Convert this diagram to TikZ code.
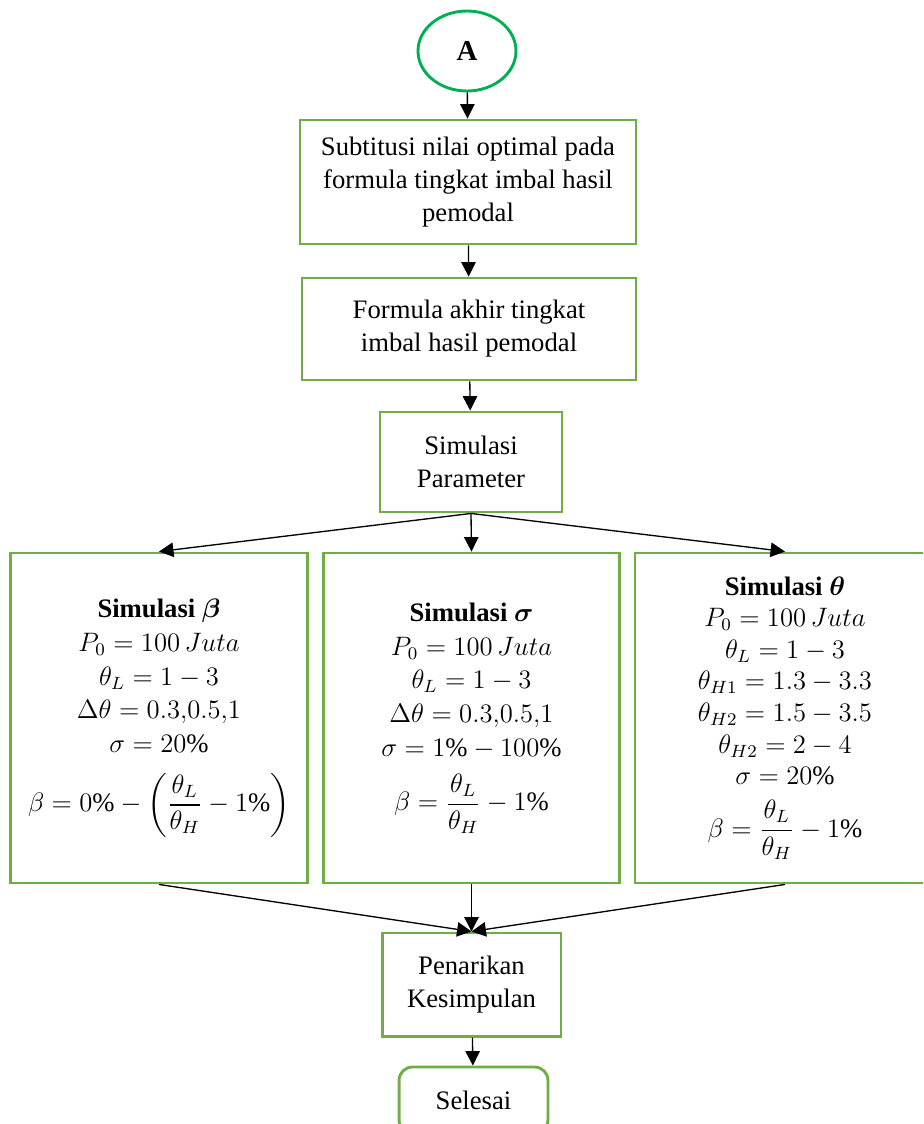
\documentclass[tikz,border=0pt]{standalone}
\usepackage{amsmath, amssymb}
\usepackage{fontspec}
\setmainfont{Liberation Serif}
\usepackage{xcolor}
\usepackage{tikz}
\usetikzlibrary{
  shapes.geometric,
  arrows.meta,
  positioning
}
\definecolor{BoxGreen}{RGB}{112, 173, 71}
\definecolor{StartGreen}{RGB}{0, 176, 80}
\tikzset{
    prosesbox/.style={rectangle, draw=BoxGreen, line width=1.3pt, align=center, inner sep=2pt,
        font=\fontsize{12}{14.8}\selectfont},
    simbox/.style={prosesbox, minimum width=133.4pt, minimum height=148.5pt,
        font=\fontsize{12}{15.2}\selectfont},
    panah/.style={-{Triangle[length=6.5pt, width=6.5pt]}, line width=0.6pt, black}
}

\begin{document}
\begin{tikzpicture}[x=0.45pt, y=-0.45pt]
            \clip (0,0) rectangle (923,1124);
            \useasboundingbox (0,0) rectangle (923,1124);

            \node[ellipse, draw=StartGreen, line width=1.3pt, minimum width=44.1pt, minimum height=36pt,
                font=\fontsize{13}{15}\selectfont\bfseries] (mulai) at (467,51) {A};
            \node[prosesbox, minimum width=151.2pt, minimum height=55.8pt] (subtitusi) at (468,182)
                {Subtitusi nilai optimal pada\\formula tingkat imbal hasil\\pemodal};
            \node[prosesbox, minimum width=150.3pt, minimum height=45.9pt] (formula) at (469,329)
                {Formula akhir tingkat\\imbal hasil pemodal};
            \node[prosesbox, minimum width=81.9pt, minimum height=45pt] (simparam) at (471,462)
                {Simulasi\\Parameter};

            \node[simbox] (simbeta) at (159,718) {
                \textbf{Simulasi $\boldsymbol{\beta}$}\\
                $P_0 = 100\,Juta$\\
                $\theta_L = 1-3$\\
                $\Delta\theta = 0.3{,}0.5{,}1$\\
                $\sigma = 20\%$\\[8pt]
                $\beta = 0\% - \biggl(\dfrac{\theta_L}{\theta_H} - 1\%\biggr)$
            };
            \node[simbox] (simsigma) at (471.5,718) {
                \textbf{Simulasi $\boldsymbol{\sigma}$}\\
                $P_0 = 100\,Juta$\\
                $\theta_L = 1-3$\\
                $\Delta\theta = 0.3{,}0.5{,}1$\\
                $\sigma = 1\% - 100\%$\\[6pt]
                $\beta = \dfrac{\theta_L}{\theta_H} - 1\%$
            };
            \node[simbox, minimum width=135pt, font=\fontsize{12}{14.2}\selectfont] (simtheta) at (785,718) {
                \textbf{Simulasi $\boldsymbol{\theta}$}\\
                $P_0 = 100\,Juta$\\
                $\theta_L = 1-3$\\
                $\theta_{H1} = 1.3-3.3$\\
                $\theta_{H2} = 1.5-3.5$\\
                $\theta_{H2} = 2-4$\\
                $\sigma = 20\%$\\[6pt]
                $\beta = \dfrac{\theta_L}{\theta_H} - 1\%$
            };

            \node[prosesbox, minimum width=80.5pt, minimum height=46.4pt] (penarikan) at (471.5,984.5)
                {Penarikan\\Kesimpulan};
            \node[prosesbox, rounded corners=6pt, minimum width=67pt, minimum height=29.7pt] (selesai) at (473.5,1100)
                {Selesai};

            \draw[panah] (mulai) -- (subtitusi);
            \draw[panah] (subtitusi) -- (formula);
            \draw[panah] (formula) -- (simparam);
            \draw[panah] (simparam.south) -- (simbeta.north);
            \draw[panah] (simparam.south) -- (simsigma.north);
            \draw[panah] (simparam.south) -- (simtheta.north);
            \draw[panah] (simbeta.south) -- (penarikan.north);
            \draw[panah] (simsigma.south) -- (penarikan.north);
            \draw[panah] (simtheta.south) -- (penarikan.north);
            \draw[panah] (penarikan) -- (selesai);
        \end{tikzpicture}
\end{document}
